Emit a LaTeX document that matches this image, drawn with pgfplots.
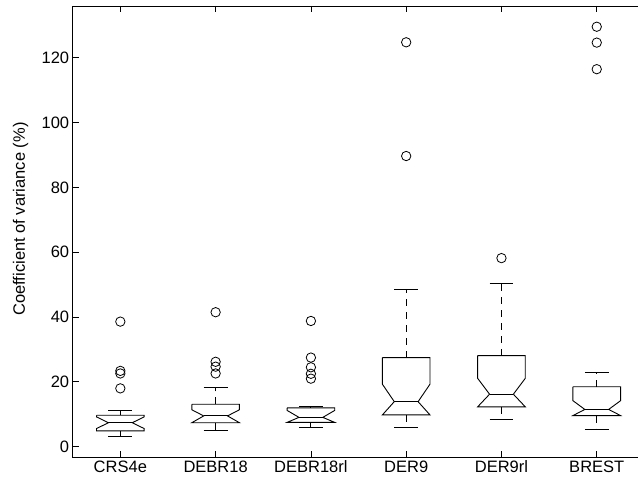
\documentclass[border=0pt]{standalone}
\usepackage{pgfplots}
\pgfplotsset{compat=1.18}
\usepackage{fontspec}
\setmainfont{Liberation Sans}
\begin{document}
\begin{tikzpicture}
\begin{axis}[
  name=ax,
  scale only axis,
  width=571.7pt, height=451.3pt,
  xmin=0.5, xmax=6.5,
  ymin=-3.27, ymax=136.0,
  xtick={1,2,3,4,5,6},
  xticklabels={CRS4e,DEBR18,DEBR18rl,DER9,DER9rl,BREST},
  ytick={0,20,40,60,80,100,120},
  tick align=inside,
  xtick pos=both, ytick pos=left,
  major tick length=6pt,
  tick style={black, line width=0.8pt},
  axis line style={black, line width=0.9pt},
  /pgf/number format/assume math mode=true,
  tick label style={font=\fontsize{16.5}{19}\selectfont},
  label style={font=\fontsize{16.5}{19}\selectfont},
  ylabel={Coefficient of variance (\%)},
  ylabel style={at={(axis description cs:-0.0913,0.528)}, anchor=center},
  unbounded coords=jump,
  every axis plot/.append style={black, line width=0.9pt},
  clip=false,
]
% notched boxes
\addplot[mark=none] coordinates {(0.75,9.7)(0.75,9.2)(0.875,7.4)(0.75,5.6)(0.75,4.9)(1.25,4.9)(1.25,5.6)(1.125,7.4)(1.25,9.2)(1.25,9.7)(0.75,9.7)};
\addplot[mark=none] coordinates {(1.75,13.1)(1.75,11.4)(1.875,9.5)(1.75,7.4)(2.25,7.4)(2.125,9.5)(2.25,11.4)(2.25,13.1)(1.75,13.1)};
\addplot[mark=none] coordinates {(2.75,12.0)(2.75,11.2)(2.875,9.05)(2.75,7.5)(3.25,7.5)(3.125,9.05)(3.25,11.2)(3.25,12.0)(2.75,12.0)};
\addplot[mark=none] coordinates {(3.75,27.5)(3.75,19.3)(3.875,13.9)(3.75,9.8)(4.25,9.8)(4.125,13.9)(4.25,19.3)(4.25,27.5)(3.75,27.5)};
\addplot[mark=none] coordinates {(4.75,28.1)(4.75,21.1)(4.875,16.2)(4.75,12.3)(5.25,12.3)(5.125,16.2)(5.25,21.1)(5.25,28.1)(4.75,28.1)};
\addplot[mark=none] coordinates {(5.75,18.5)(5.75,14.2)(5.875,11.5)(5.75,9.6)(6.25,9.6)(6.125,11.5)(6.25,14.2)(6.25,18.5)(5.75,18.5)};
% medians
\addplot[mark=none] coordinates {(0.875,7.4)(1.125,7.4)(1.125,nan)(1.875,9.5)(2.125,9.5)(2.125,nan)(2.875,9.05)(3.125,9.05)(3.125,nan)(3.875,13.9)(4.125,13.9)(4.125,nan)(4.875,16.2)(5.125,16.2)(5.125,nan)(5.875,11.5)(6.125,11.5)};
% whiskers
\addplot[mark=none, dash pattern=on 7pt off 6pt] coordinates {
(1,9.7)(1,11.1)(1,nan)(1,4.9)(1,3.1)(1,nan)
(2,13.1)(2,18.3)(2,nan)(2,7.4)(2,4.9)(2,nan)
(3,12.0)(3,12.3)(3,nan)(3,7.5)(3,5.9)(3,nan)
(4,27.5)(4,48.6)(4,nan)(4,9.8)(4,5.9)(4,nan)
(5,28.1)(5,50.4)(5,nan)(5,12.3)(5,8.5)(5,nan)
(6,18.5)(6,22.8)(6,nan)(6,9.6)(6,5.2)};
% caps
\addplot[mark=none] coordinates {
(0.875,11.1)(1.125,11.1)(1.125,nan)(0.875,3.1)(1.125,3.1)(1.125,nan)
(1.875,18.3)(2.125,18.3)(2.125,nan)(1.875,4.9)(2.125,4.9)(2.125,nan)
(2.875,12.3)(3.125,12.3)(3.125,nan)(2.875,5.9)(3.125,5.9)(3.125,nan)
(3.875,48.6)(4.125,48.6)(4.125,nan)(3.875,5.9)(4.125,5.9)(4.125,nan)
(4.875,50.4)(5.125,50.4)(5.125,nan)(4.875,8.5)(5.125,8.5)(5.125,nan)
(5.875,22.8)(6.125,22.8)(6.125,nan)(5.875,5.2)(6.125,5.2)};
% outliers
\addplot[only marks, mark=o, mark size=4.7pt, mark options={line width=0.8pt}] coordinates {
(1,38.6)(1,23.4)(1,22.6)(1,18.0)
(2,41.5)(2,26.2)(2,24.7)(2,22.6)
(3,38.8)(3,27.5)(3,24.5)(3,22.5)(3,21.0)
(4,124.8)(4,89.7)
(5,58.2)
(6,129.6)(6,124.7)(6,116.5)};
\end{axis}
\pgfresetboundingbox
\path ([shift={(-72.7pt,6pt)}]ax.north west) rectangle ++(638pt,-485pt);
\end{tikzpicture}
\end{document}
